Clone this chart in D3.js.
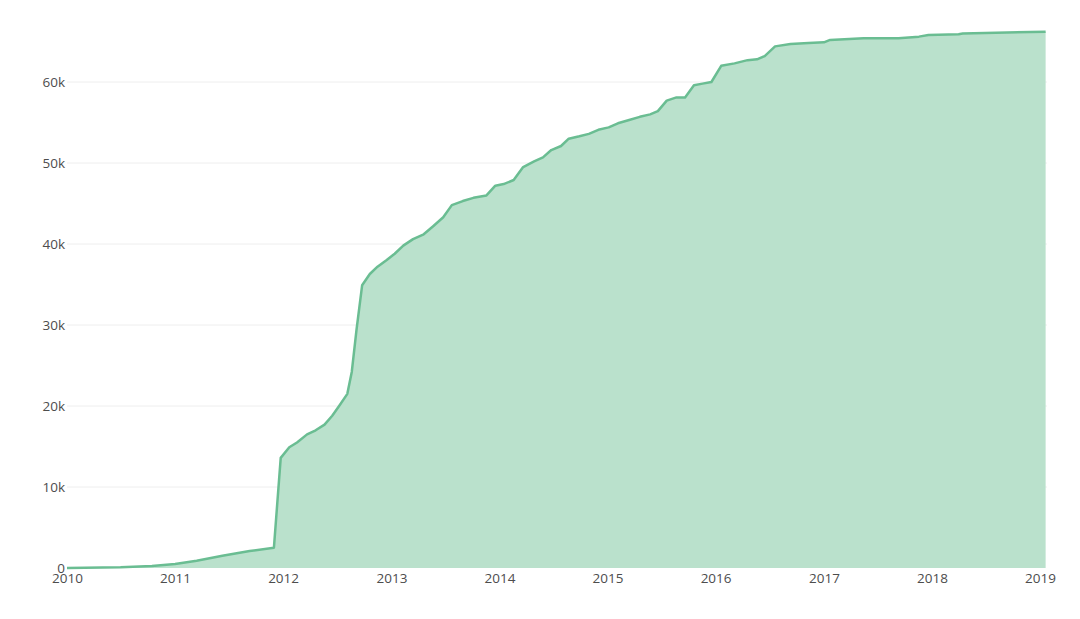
<!DOCTYPE html>
<html>
<head>
<meta charset="utf-8">
<script src="https://cdn.jsdelivr.net/npm/d3@7"></script>
<style>
html,body{margin:0;padding:0;background:#fff;}
svg{display:block;}
text{font-family:"Open Sans",sans-serif;}
</style>
</head>
<body>
<svg id="chart" width="1080" height="619"></svg>
<script>
const dates = ["2010-01-01","2010-07-01","2010-10-15","2011-01-01","2011-03-15","2011-06-10","2011-09-10","2011-12-01","2011-12-24",
"2012-01-22","2012-02-17","2012-03-22","2012-04-20","2012-05-20","2012-06-15","2012-07-10","2012-08-05","2012-08-20","2012-09-05","2012-09-24",
"2012-10-20","2012-11-15","2012-12-15","2013-01-12","2013-02-10","2013-03-15","2013-04-20","2013-05-22","2013-06-25","2013-07-24",
"2013-08-30","2013-10-05","2013-11-18","2013-12-18","2014-01-15","2014-02-18","2014-03-22","2014-04-28","2014-05-28","2014-06-25",
"2014-07-28","2014-08-23","2014-09-28","2014-10-30","2014-12-01","2015-01-05","2015-02-05","2015-03-15","2015-04-20","2015-05-25",
"2015-06-20","2015-07-20","2015-08-22","2015-09-20","2015-10-20","2015-11-18","2015-12-18","2016-01-20","2016-03-05","2016-04-18",
"2016-05-20","2016-06-15","2016-07-20","2016-09-10","2016-11-10","2017-01-01","2017-01-22","2017-05-15","2017-09-10","2017-11-18",
"2017-12-20","2018-04-01","2018-04-15","2019-01-20"];
const totals = [0,100,250,500,900,1500,2100,2500,13600,
14900,15500,16500,17000,17700,18800,20100,21500,24200,29400,34900,
36300,37200,38000,38800,39800,40600,41200,42200,43300,44800,
45300,45700,46000,47200,47400,47900,49500,50200,50700,51600,
52100,53000,53300,53600,54100,54400,54900,55300,55700,56000,
56400,57700,58100,58100,59600,59800,60000,62000,62300,62700,
62800,63200,64400,64700,64800,64900,65200,65400,65400,65600,
65800,65900,66000,66200];
const yTicks = [0,10000,20000,30000,40000,50000,60000];
const yTickLabels = ["0","10k","20k","30k","40k","50k","60k"];
const xTickYears = ["2010","2011","2012","2013","2014","2015","2016","2017","2018","2019"];

const parse = d3.timeParse("%Y-%m-%d");
const data = dates.map((d,i)=>({date:parse(d), v:totals[i]}));

const svg = d3.select("#chart");
const x = d3.scaleTime().domain([parse("2010-01-01"), parse("2019-01-01")]).range([67, 1040]);
const y = d3.scaleLinear().domain([0, 70000]).range([568, 1]);

// gridlines
svg.append("g").selectAll("line").data(yTicks.slice(1)).join("line")
  .attr("x1", 67).attr("x2", 1047)
  .attr("y1", d=>y(d)).attr("y2", d=>y(d))
  .attr("stroke", "#eeeeee").attr("stroke-width", 1);

// area
svg.append("path").datum(data)
  .attr("d", d3.area().x(d=>x(d.date)).y0(y(0)).y1(d=>y(d.v)))
  .attr("fill", "#bae1cc");
svg.append("path").datum(data)
  .attr("d", d3.line().x(d=>x(d.date)).y(d=>y(d.v)))
  .attr("fill", "none").attr("stroke", "#6abd92").attr("stroke-width", 2.5)
  .attr("stroke-linejoin", "round");

// y axis labels
const yAxis = d3.axisLeft(y).tickValues(yTicks).tickFormat((d,i)=>yTickLabels[i]).tickSize(0).tickPadding(0);
const gy = svg.append("g").attr("transform", "translate(65,0)").call(yAxis);
gy.select(".domain").remove();
gy.selectAll("text").attr("font-family","Open Sans, sans-serif").attr("font-size", 13.5).attr("fill", "#4d4d4d").attr("dy","0.35em");

// x axis labels
const xAxis = d3.axisBottom(x).tickValues(xTickYears.map(s=>parse(s+"-01-01"))).tickFormat((d,i)=>xTickYears[i]).tickSize(0).tickPadding(0);
const gx = svg.append("g").attr("transform", "translate(0,573)").call(xAxis);
gx.select(".domain").remove();
gx.selectAll("text").attr("font-family","Open Sans, sans-serif").attr("font-size", 13.5).attr("fill", "#4d4d4d").attr("dy","0.71em");
</script>
</body>
</html>
